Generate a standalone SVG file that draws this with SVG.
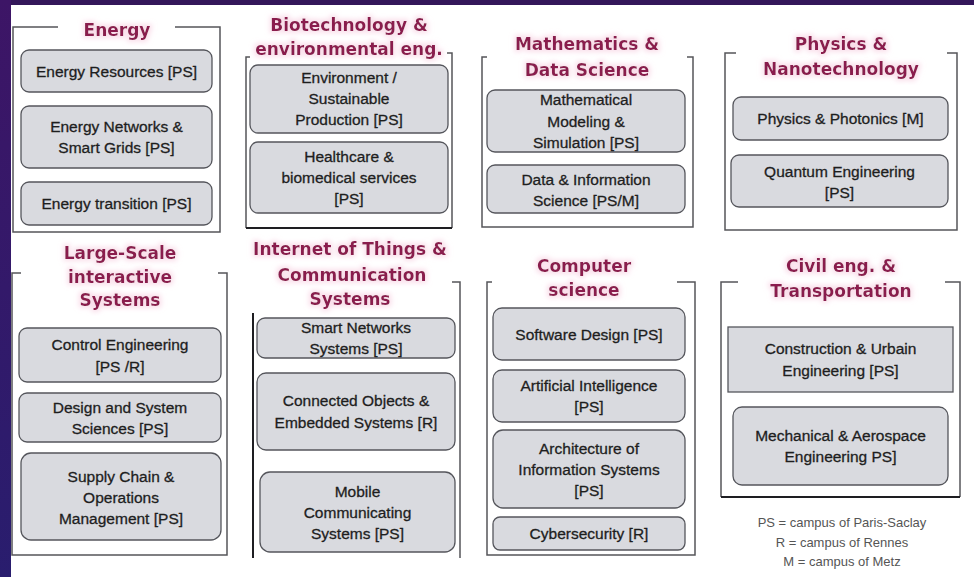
<svg xmlns="http://www.w3.org/2000/svg" width="974" height="577" viewBox="0 0 974 577">
<defs>
<linearGradient id="side" x1="0" y1="0" x2="0" y2="1">
<stop offset="0" stop-color="#3d1566"/>
<stop offset="1" stop-color="#291d6e"/>
</linearGradient>
<filter id="glow" x="-10%" y="-30%" width="120%" height="160%">
<feMorphology in="SourceAlpha" operator="dilate" radius="1.5" result="d"/>
<feGaussianBlur in="d" stdDeviation="2.5" result="b"/>
<feFlood flood-color="#f6c9dd" flood-opacity="0.6"/>
<feComposite in2="b" operator="in" result="g"/>
<feMerge><feMergeNode in="g"/><feMergeNode in="SourceGraphic"/></feMerge>
</filter>
<style>
.frame{fill:none;stroke:#55555a;stroke-width:1.5}
.dark{fill:none;stroke:#1e1e22;stroke-width:2}
.box{fill:#d9dadf;stroke:#55565c;stroke-width:1.3}
.title{font-family:"DejaVu Sans",sans-serif;font-weight:bold;font-size:17px;fill:#8a1f4e;text-anchor:middle}
.lbl{font-family:"Liberation Sans",Arial,sans-serif;font-size:15.5px;fill:#1e1e1e;stroke:#1e1e1e;stroke-width:0.3;text-anchor:middle}
.leg{font-family:"Liberation Sans",Arial,sans-serif;font-size:13px;fill:#555555;text-anchor:middle}
</style>
</defs>
<rect x="0" y="0" width="974" height="577" fill="#ffffff"/>
<rect x="0" y="0" width="974" height="5" fill="#34175a"/>
<rect x="0" y="0" width="11" height="577" fill="url(#side)"/>

<g id="connectors">
<path class="frame" d="M58,27 H13 V232 H220 V27 H175"/>
<path class="frame" d="M250,57 H246 V228 M447,53 H452 V228"/>
<path class="dark" d="M246,228 H452"/>
<path class="frame" d="M487,57 H482 V227 H693 V57 H687"/>
<path class="frame" d="M736,53 H725 V230 H957 V53 H947"/>
<path class="frame" d="M21,273 H12 V555 H227 V273 H218"/>
<path class="dark" d="M253,313 V558"/>
<path class="frame" d="M452,282 H460 V558"/>
<path class="frame" d="M492,282 H487 V555 H695 V282 H677"/>
<path class="frame" d="M738,282 H721 V497 M945,282 H960 V497"/>
<path class="dark" d="M721,497 H960"/>
</g>

<g id="energy">
<text class="title" filter="url(#glow)" x="117" y="36">Energy</text>
<g id="energy-resources"><rect class="box" x="21" y="50" width="191" height="42" rx="8"/><text class="lbl" x="116.5" y="76.5">Energy Resources [PS]</text></g>
<g id="energy-networks"><rect class="box" x="21" y="106" width="191" height="62" rx="8"/><text class="lbl" x="116.5" y="132">Energy Networks &amp;</text><text class="lbl" x="116.5" y="153">Smart Grids [PS]</text></g>
<g id="energy-transition"><rect class="box" x="21" y="182" width="191" height="43" rx="8"/><text class="lbl" x="116.5" y="209">Energy transition [PS]</text></g>
</g>

<g id="biotech">
<text class="title" filter="url(#glow)" x="349" y="31">Biotechnology &amp;</text>
<text class="title" filter="url(#glow)" x="349" y="55">environmental eng.</text>
<g id="environment"><rect class="box" x="250" y="65" width="198" height="68" rx="8"/><text class="lbl" x="349" y="83">Environment /</text><text class="lbl" x="349" y="104">Sustainable</text><text class="lbl" x="349" y="125">Production [PS]</text></g>
<g id="healthcare"><rect class="box" x="250" y="142" width="198" height="71" rx="8"/><text class="lbl" x="349" y="162">Healthcare &amp;</text><text class="lbl" x="349" y="183">biomedical services</text><text class="lbl" x="349" y="204">[PS]</text></g>
</g>

<g id="math">
<text class="title" filter="url(#glow)" x="587" y="50">Mathematics &amp;</text>
<text class="title" filter="url(#glow)" x="587" y="76">Data Science</text>
<g id="modeling"><rect class="box" x="487" y="90" width="198" height="62" rx="8"/><text class="lbl" x="586" y="105">Mathematical</text><text class="lbl" x="586" y="126.5">Modeling &amp;</text><text class="lbl" x="586" y="147.5">Simulation [PS]</text></g>
<g id="data"><rect class="box" x="487" y="165" width="198" height="48" rx="8"/><text class="lbl" x="586" y="184.5">Data &amp; Information</text><text class="lbl" x="586" y="205.5">Science [PS/M]</text></g>
</g>

<g id="physics">
<text class="title" filter="url(#glow)" x="841" y="50">Physics &amp;</text>
<text class="title" filter="url(#glow)" x="841" y="75">Nanotechnology</text>
<g id="photonics"><rect class="box" x="733" y="97" width="215" height="43" rx="8"/><text class="lbl" x="840.5" y="124">Physics &amp; Photonics [M]</text></g>
<g id="quantum"><rect class="box" x="731" y="155" width="217" height="52" rx="8"/><text class="lbl" x="839.5" y="177">Quantum Engineering</text><text class="lbl" x="839.5" y="198">[PS]</text></g>
</g>

<g id="largescale">
<text class="title" filter="url(#glow)" x="120" y="259">Large-Scale</text>
<text class="title" filter="url(#glow)" x="120" y="283">interactive</text>
<text class="title" filter="url(#glow)" x="120" y="306">Systems</text>
<g id="control"><rect class="box" x="19" y="328" width="202" height="54" rx="8"/><text class="lbl" x="120" y="350">Control Engineering</text><text class="lbl" x="120" y="371.5">[PS /R]</text></g>
<g id="design"><rect class="box" x="19" y="393" width="202" height="49" rx="8"/><text class="lbl" x="120" y="412.5">Design and System</text><text class="lbl" x="120" y="433.5">Sciences [PS]</text></g>
<g id="supply"><rect class="box" x="21" y="453" width="200" height="87" rx="10"/><text class="lbl" x="121" y="482">Supply Chain &amp;</text><text class="lbl" x="121" y="503">Operations</text><text class="lbl" x="121" y="524">Management [PS]</text></g>
</g>

<g id="iot">
<text class="title" filter="url(#glow)" x="350" y="255">Internet of Things &amp;</text>
<text class="title" filter="url(#glow)" x="352" y="281">Communication</text>
<text class="title" filter="url(#glow)" x="350" y="305">Systems</text>
<g id="smart-networks"><rect class="box" x="257" y="318" width="198" height="40" rx="8"/><text class="lbl" x="356" y="333">Smart Networks</text><text class="lbl" x="356" y="354">Systems [PS]</text></g>
<g id="connected"><rect class="box" x="257" y="373" width="198" height="77" rx="9"/><text class="lbl" x="356" y="406">Connected Objects &amp;</text><text class="lbl" x="356" y="427.5">Embedded Systems [R]</text></g>
<g id="mobile"><rect class="box" x="260" y="472" width="195" height="80" rx="10"/><text class="lbl" x="357.5" y="496.5">Mobile</text><text class="lbl" x="357.5" y="517.5">Communicating</text><text class="lbl" x="357.5" y="538.5">Systems [PS]</text></g>
</g>

<g id="cs">
<text class="title" filter="url(#glow)" x="584" y="272">Computer</text>
<text class="title" filter="url(#glow)" x="584" y="296">science</text>
<g id="software"><rect class="box" x="493" y="308" width="192" height="52" rx="9"/><text class="lbl" x="589" y="340">Software Design [PS]</text></g>
<g id="ai"><rect class="box" x="493" y="370" width="192" height="52" rx="9"/><text class="lbl" x="589" y="391">Artificial Intelligence</text><text class="lbl" x="589" y="412">[PS]</text></g>
<g id="architecture"><rect class="box" x="493" y="430" width="192" height="78" rx="10"/><text class="lbl" x="589" y="454">Architecture  of</text><text class="lbl" x="589" y="475">Information Systems</text><text class="lbl" x="589" y="496">[PS]</text></g>
<g id="cyber"><rect class="box" x="493" y="517" width="192" height="33" rx="7"/><text class="lbl" x="589" y="538.5">Cybersecurity [R]</text></g>
</g>

<g id="civil">
<text class="title" filter="url(#glow)" x="841" y="272">Civil eng. &amp;</text>
<text class="title" filter="url(#glow)" x="841" y="297">Transportation</text>
<g id="construction"><rect class="box" x="728" y="327" width="225" height="65"/><text class="lbl" x="840.5" y="354">Construction &amp; Urbain</text><text class="lbl" x="840.5" y="375.5">Engineering [PS]</text></g>
<g id="mechanical"><rect class="box" x="733" y="407" width="215" height="78" rx="9"/><text class="lbl" x="840.5" y="441">Mechanical &amp; Aerospace</text><text class="lbl" x="840.5" y="462">Engineering PS]</text></g>
</g>

<g id="legend">
<text class="leg" x="842" y="527">PS =  campus of Paris-Saclay</text>
<text class="leg" x="842" y="547">R = campus of Rennes</text>
<text class="leg" x="842" y="566">M = campus of Metz</text>
</g>
</svg>
